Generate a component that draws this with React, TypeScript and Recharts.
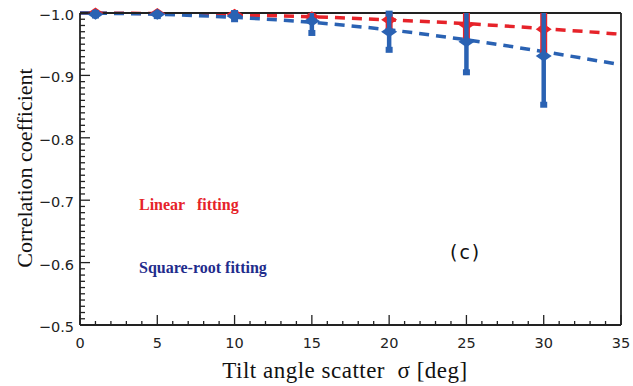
import { ComposedChart, Line, Scatter, XAxis, YAxis } from "recharts";

// measured points (diamonds + error bars)
const sigma = [1, 5, 10, 15, 20, 25, 30];
const linearCorr = [-1.0, -0.999, -0.998, -0.994, -0.989, -0.981, -0.974];
const linearErr = [0.002, 0.002, 0.004, 0.01, 0.019, 0.027, 0.038];
const sqrtCorr = [-0.998, -0.998, -0.995, -0.987, -0.97, -0.954, -0.931];
const sqrtErr = [0.002, 0.003, 0.005, 0.019, 0.029, 0.049, 0.078];

// dashed fit curves
const fitSigma = [0, 5, 10, 15, 20, 25, 30, 35];
const linearFit = [-1.0, -0.999, -0.997, -0.994, -0.989, -0.983, -0.975, -0.966];
const sqrtFit = [-1.0, -0.998, -0.993, -0.985, -0.973, -0.957, -0.938, -0.917];

const xMajor = [0, 5, 10, 15, 20, 25, 30, 35];
const yMajor = [-1.0, -0.9, -0.8, -0.7, -0.6, -0.5];

const RED = "#e6232a";
const BLUE = "#2a62b3";
const AXIS = "#222";

const yMin = -1.0;
const yMax = -0.5;

const W = 633;
const H = 386;
const M = { top: 12, right: 11, bottom: 0, left: 0 };
const TOP_H = 1;
const BOTTOM_H = 61;
const PX_PER_UNIT = (H - M.top - M.bottom - TOP_H - BOTTOM_H) / (yMax - yMin);

const xTicks: number[] = [];
for (let i = 0; i <= 35; i++) xTicks.push(i);
const yTicks: number[] = [];
for (let i = 0; i <= 50; i++) yTicks.push(Math.round((yMin + i * 0.01) * 100) / 100);

// error bars are clipped at the -1.0 frame
const toPts = (vals: number[], errs: number[]) =>
  sigma.map((s, i) => ({
    x: s,
    y: vals[i],
    lo: Math.min(errs[i], vals[i] - yMin),
    hi: errs[i],
    clipped: errs[i] > vals[i] - yMin,
  }));
const redPts = toPts(linearCorr, linearErr);
const bluePts = toPts(sqrtCorr, sqrtErr);
const redFit = fitSigma.map((s, i) => ({ x: s, y: linearFit[i] }));
const blueFit = fitSigma.map((s, i) => ({ x: s, y: sqrtFit[i] }));

const isMajorX = (v: number) => xMajor.includes(v);
const isMajorY = (v: number) => yMajor.some((m) => Math.abs(m - v) < 1e-6);
const fmtY = (v: number) => (v < 0 ? "\u2212" : "") + Math.abs(v).toFixed(1);
const tickFont = "'DejaVu Sans', Verdana, sans-serif";

const LeftTick = ({ x, y, payload }: any) => {
  const major = isMajorY(payload.value);
  return (
    <g>
      <line x1={x} x2={x + (major ? 10 : 5)} y1={y} y2={y} stroke={AXIS} strokeWidth={1.3} />
      {major && (
        <text x={x - 6} y={y + 7} textAnchor="end" fontSize={14.5} fontFamily={tickFont} fill="#222">
          {fmtY(payload.value)}
        </text>
      )}
    </g>
  );
};
const RightTick = ({ x, y, payload }: any) => {
  const major = isMajorY(payload.value);
  return <line x1={x} x2={x - (major ? 10 : 5)} y1={y} y2={y} stroke={AXIS} strokeWidth={1.3} />;
};
const BottomTick = ({ x, y, payload }: any) => {
  const major = isMajorX(payload.value);
  return (
    <g>
      <line x1={x} x2={x} y1={y} y2={y - (major ? 10 : 4)} stroke={AXIS} strokeWidth={1.3} />
      {major && (
        <text x={x} y={y + 23} textAnchor="middle" fontSize={14.5} fontFamily={tickFont} fill="#222">
          {payload.value}
        </text>
      )}
    </g>
  );
};
const TopTick = ({ x, y, payload }: any) => {
  const major = isMajorX(payload.value);
  return <line x1={x} x2={x} y1={y} y2={y + (major ? 10 : 4)} stroke={AXIS} strokeWidth={1.3} />;
};

const diamondPts = (cx: number, cy: number) =>
  `${cx - 8},${cy} ${cx},${cy - 5.5} ${cx + 8},${cy} ${cx},${cy + 5.5}`;

// marker with its error bar (reversed axis: lower values sit higher)
const Marker = (color: string, barW: number, cap: number) => (props: any) => {
  const { cx, cy, payload } = props;
  const top = cy - payload.lo * PX_PER_UNIT;
  const bottom = cy + payload.hi * PX_PER_UNIT;
  return (
    <g>
      <line x1={cx} x2={cx} y1={top} y2={bottom} stroke={color} strokeWidth={barW} />
      {cap > 0 && (
        <rect x={cx - cap / 2} y={bottom - 3} width={cap} height={6} fill={color} />
      )}
      {cap > 0 && !payload.clipped && (
        <rect x={cx - cap / 2} y={top - 3} width={cap} height={6} fill={color} />
      )}
      <polygon points={diamondPts(cx, cy)} fill={color} />
    </g>
  );
};
const RedMarker = Marker(RED, 7, 0);
const BlueMarker = Marker(BLUE, 4.5, 7);

const serif = "'Liberation Serif', 'DejaVu Serif', serif";

const Note = ({ x, y, children, style }: any) => (
  <div
    style={{
      position: "absolute",
      left: x,
      top: y,
      transform: "translateY(-50%)",
      whiteSpace: "pre",
      lineHeight: 1,
      ...style,
    }}
  >
    {children}
  </div>
);

export default function App() {
  return (
    <div style={{ position: "absolute", left: 0, top: 0, width: W, height: H, background: "#fff" }}>
      <ComposedChart width={W} height={H} margin={M}>
        <XAxis
          xAxisId="bottom"
          dataKey="x"
          type="number"
          domain={[0, 35]}
          ticks={xTicks}
          interval={0}
          height={BOTTOM_H}
          tickSize={0}
          tickMargin={0}
          tick={<BottomTick />}
          axisLine={{ stroke: AXIS, strokeWidth: 1.8 }}
          tickLine={false}
        />
        <XAxis
          xAxisId="top"
          orientation="top"
          dataKey="x"
          type="number"
          domain={[0, 35]}
          ticks={xTicks}
          interval={0}
          height={TOP_H}
          tickSize={0}
          tickMargin={0}
          tick={<TopTick />}
          axisLine={{ stroke: AXIS, strokeWidth: 1.8 }}
          tickLine={false}
        />
        <YAxis
          yAxisId="left"
          type="number"
          domain={[yMin, yMax]}
          reversed
          ticks={yTicks}
          interval={0}
          width={80}
          tickSize={0}
          tickMargin={0}
          tick={<LeftTick />}
          axisLine={{ stroke: AXIS, strokeWidth: 1.8 }}
          tickLine={false}
        />
        <YAxis
          yAxisId="right"
          orientation="right"
          type="number"
          domain={[yMin, yMax]}
          reversed
          ticks={yTicks}
          interval={0}
          width={1}
          tickSize={0}
          tickMargin={0}
          tick={<RightTick />}
          axisLine={{ stroke: AXIS, strokeWidth: 1.8 }}
          tickLine={false}
        />
        <Line
          xAxisId="bottom"
          yAxisId="left"
          data={redFit}
          dataKey="y"
          type="monotone"
          stroke={RED}
          strokeWidth={3.5}
          strokeDasharray="10 7"
          dot={false}
          isAnimationActive={false}
        />
        <Line
          xAxisId="bottom"
          yAxisId="left"
          data={blueFit}
          dataKey="y"
          type="monotone"
          stroke={BLUE}
          strokeWidth={3.5}
          strokeDasharray="10 7"
          dot={false}
          isAnimationActive={false}
        />
        <Scatter
          name="linear"
          xAxisId="bottom"
          yAxisId="left"
          data={redPts}
          dataKey="y"
          fill={RED}
          shape={RedMarker}
          isAnimationActive={false}
        />
        <Scatter
          name="sqrt"
          xAxisId="bottom"
          yAxisId="left"
          data={bluePts}
          dataKey="y"
          fill={BLUE}
          shape={BlueMarker}
          isAnimationActive={false}
        />
      </ComposedChart>

      <Note x={139} y={205} style={{ color: RED, fontFamily: serif, fontSize: 16, fontWeight: "bold" }}>
        {"Linear   fitting"}
      </Note>
      <Note x={139} y={268} style={{ color: "#1f2c8c", fontFamily: serif, fontSize: 16, fontWeight: "bold" }}>
        Square-root fitting
      </Note>
      <Note x={450} y={252} style={{ color: "#111", fontFamily: tickFont, fontSize: 19, letterSpacing: 2 }}>
        (c)
      </Note>
      <div
        style={{
          position: "absolute",
          left: 345,
          top: 370,
          transform: "translate(-50%, -50%)",
          whiteSpace: "pre",
          lineHeight: 1,
          fontFamily: serif,
          fontSize: 23,
          letterSpacing: 0.5,
          color: "#111",
        }}
      >
        {"Tilt angle scatter  \u03c3 [deg]"}
      </div>
      <div
        style={{
          position: "absolute",
          left: 25,
          top: 168,
          transform: "translate(-50%, -50%) rotate(-90deg)",
          whiteSpace: "pre",
          lineHeight: 1,
          fontFamily: serif,
          fontSize: 22,
          color: "#111",
        }}
      >
        Correlation coefficient
      </div>
    </div>
  );
}
